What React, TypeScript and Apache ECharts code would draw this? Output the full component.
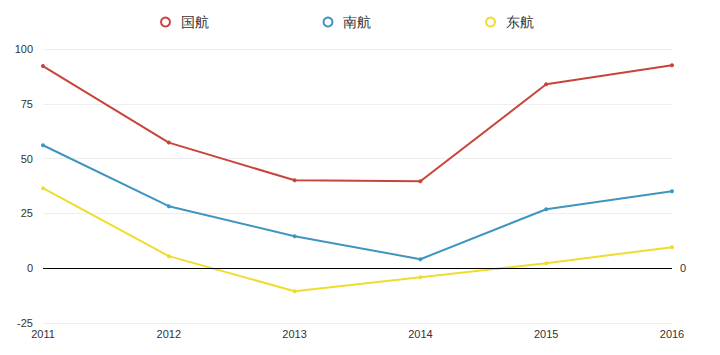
import React, { useEffect, useRef } from "react";
import * as echarts from "echarts";

const years = ["2011", "2012", "2013", "2014", "2015", "2016"];
const guohang = [92.2, 57.3, 40.1, 39.7, 83.9, 92.6];
const nanhang = [56.1, 28.3, 14.6, 4.1, 26.9, 35.1];
const donghang = [36.5, 5.5, -10.5, -4.1, 2.3, 9.6];
const seriesNames = ["国航", "南航", "东航"];
const colors = ["#c8443a", "#3f95c0", "#f0dc2c"];

export default function App() {
  const ref = useRef<HTMLDivElement>(null);
  useEffect(() => {
    document.body.style.margin = "0";
    if (!ref.current) return;
    const chart = echarts.init(ref.current, undefined, { renderer: "svg" });
    const font = "'Liberation Sans', Arial, sans-serif";
    const mk = (name: string, data: number[], color: string, withMark: boolean) => ({
      name,
      type: "line",
      data,
      symbol: "circle",
      symbolSize: 4,
      showSymbol: true,
      itemStyle: { color },
      lineStyle: { color, width: 2 },
      markLine: withMark
        ? {
            silent: true,
            symbol: ["none", "none"],
            data: [{ yAxis: 0 }],
            lineStyle: { color: "#000", type: "solid", width: 1 },
            label: { show: true, position: "end", formatter: "0", color: "#333", fontSize: 11, fontFamily: font, distance: 8 },
          }
        : undefined,
    });
    chart.setOption({
      animation: false,
      textStyle: { fontFamily: font },
      legend: {
        left: 155,
        top: 10,
        itemWidth: 20,
        itemHeight: 9,
        itemGap: 114,
        icon: "emptyCircle",
        itemStyle: { borderWidth: 2.5 },
        textStyle: { fontSize: 14, color: "#333", fontFamily: font },
        data: seriesNames,
      },
      grid: { left: 43, right: 48, top: 49, bottom: 32, containLabel: false },
      xAxis: {
        type: "category",
        data: years,
        boundaryGap: false,
        axisLine: { show: false },
        axisTick: { show: false },
        axisLabel: { color: "#333", fontSize: 11, margin: 5, fontFamily: font },
        splitLine: { show: false },
      },
      yAxis: {
        type: "value",
        min: -25,
        max: 100,
        interval: 25,
        axisLine: { show: false },
        axisTick: { show: false },
        axisLabel: { color: "#333", fontSize: 11, margin: 10, fontFamily: font },
        splitLine: { lineStyle: { color: "#eeeeee", width: 1 } },
      },
      series: [
        mk(seriesNames[0], guohang, colors[0], true),
        mk(seriesNames[1], nanhang, colors[1], false),
        mk(seriesNames[2], donghang, colors[2], false),
      ],
    });
    return () => chart.dispose();
  }, []);
  return <div ref={ref} style={{ width: 720, height: 355 }} />;
}
